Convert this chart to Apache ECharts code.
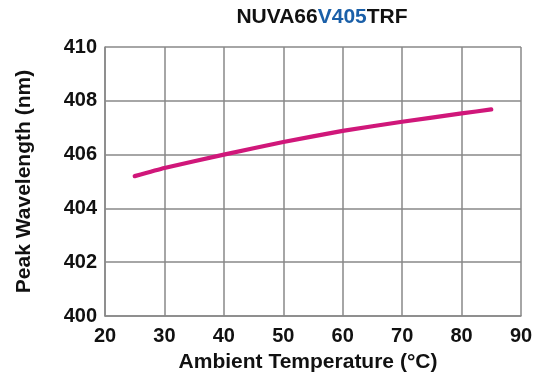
<!DOCTYPE html>
<html><head><meta charset="utf-8">
<script src="https://cdn.jsdelivr.net/npm/echarts@6/dist/echarts.min.js"></script>
<style>html,body{margin:0;padding:0;background:#fff}#c{width:536px;height:383px}</style>
</head><body><div id="c"></div>
<script>
const temps = [25, 30, 40, 50, 60, 70, 80, 85];
const wavelength = [405.2, 405.5, 406.0, 406.47, 406.88, 407.22, 407.53, 407.68];
const titleParts = ['NUVA66', 'V405', 'TRF'];
const xName = 'Ambient Temperature (°C)';
const yName = 'Peak Wavelength (nm)';

const chart = echarts.init(document.getElementById('c'));
const F = 'Liberation Sans, Arial, sans-serif';
chart.setOption({
  animation: false,
  title: {
    text: '{a|' + titleParts[0] + '}{b|' + titleParts[1] + '}{a|' + titleParts[2] + '}',
    left: 322, top: 7, textAlign: 'center', padding: 0,
    textStyle: {
      rich: {
        a: {fontFamily: F, fontWeight: 'bold', fontSize: 21, color: '#111'},
        b: {fontFamily: F, fontWeight: 'bold', fontSize: 21, color: '#1a5fa8'}
      }
    }
  },
  grid: {left: 105, right: 15, top: 47, bottom: 67},
  xAxis: {
    type: 'value', min: 20, max: 90, interval: 10,
    name: xName, nameLocation: 'middle', nameGap: 36,
    nameTextStyle: {fontFamily: F, fontWeight: 'bold', fontSize: 21, color: '#111', padding: [0, 10, 0, 0]},
    axisLine: {show: true, lineStyle: {color: '#888', width: 1.5}},
    axisTick: {show: false},
    axisLabel: {fontFamily: F, fontWeight: 'bold', fontSize: 20, color: '#111', margin: 10},
    splitLine: {show: true, lineStyle: {color: '#888', width: 1.5}}
  },
  yAxis: {
    type: 'value', min: 400, max: 410, interval: 2,
    name: yName, nameLocation: 'middle', nameGap: 70, nameRotate: 90,
    nameTextStyle: {fontFamily: F, fontWeight: 'bold', fontSize: 21, color: '#111'},
    axisLine: {show: true, lineStyle: {color: '#888', width: 1.5}},
    axisTick: {show: false},
    axisLabel: {fontFamily: F, fontWeight: 'bold', fontSize: 20, color: '#111', margin: 8},
    splitLine: {show: true, lineStyle: {color: '#888', width: 1.5}}
  },
  series: [{
    type: 'line', smooth: 0.15, symbol: 'none',
    data: temps.map((t, i) => [t, wavelength[i]]),
    lineStyle: {color: '#d0177a', width: 4.2, cap: 'round', join: 'round'}
  }]
});
</script></body></html>
